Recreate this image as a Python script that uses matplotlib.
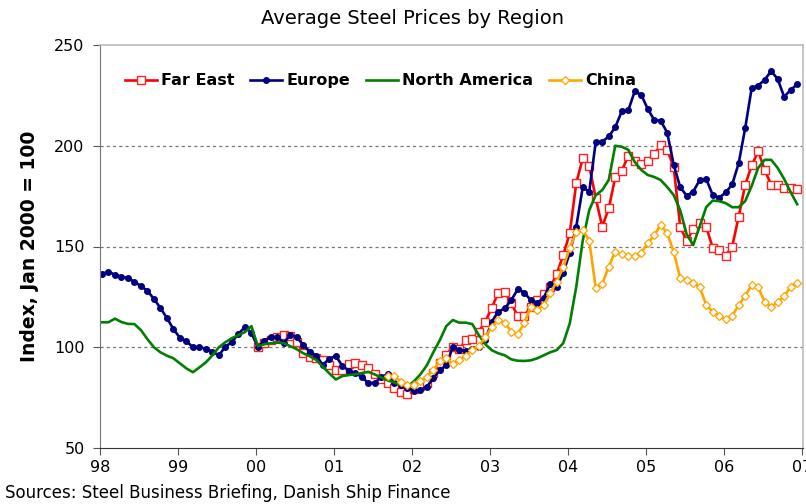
import numpy as np
import matplotlib
matplotlib.use("Agg")
import matplotlib.pyplot as plt

# monthly index values, Jan 1998 = month 0
europe = [136.4, 137.5, 136.0, 135.0, 134.4, 132.4, 130.4, 128.0, 124.0, 119.5,
          114.5, 109.0, 104.7, 103.0, 100.0, 100.0, 99.3, 97.8, 96.0, 100.3,
          102.6, 106.6, 110.0, 107.2, 100.0, 103.3, 105.0, 105.0, 102.3, 106.0,
          105.0, 101.0, 97.8, 95.7, 91.2, 94.3, 95.7, 90.7, 88.4, 87.0,
          85.4, 82.1, 82.4, 85.1, 86.7, 82.4, 81.3, 80.0, 78.4, 78.8,
          80.4, 84.6, 88.7, 91.0, 100.3, 98.6, 98.3, 99.3, 100.3, 103.6,
          112.7, 117.7, 119.3, 123.4, 128.8, 127.1, 123.4, 122.1, 124.6, 131.4,
          130.0, 137.0, 146.9, 159.8, 179.4, 177.2, 202.0, 202.0, 204.6, 209.2,
          217.0, 217.5, 227.0, 225.3, 218.3, 212.8, 212.4, 206.5, 190.6, 179.4,
          175.2, 177.2, 183.0, 183.5, 175.6, 174.2, 176.8, 180.8, 191.3, 208.7,
          228.6, 229.9, 232.7, 237.1, 233.1, 224.3, 227.7, 230.5]

north_america = [112.4, 112.4, 114.2, 112.5, 111.6, 111.5, 108.5, 104.0, 100.0, 97.5,
                 95.8, 94.5, 92.0, 89.5, 87.6, 90.0, 92.5, 96.0, 100.0, 102.5,
                 104.5, 106.0, 107.5, 110.5, 100.5, 101.5, 102.0, 102.3, 102.0, 100.5,
                 99.0, 97.0, 95.5, 93.7, 90.3, 87.0, 84.0, 85.7, 86.2, 86.6,
                 87.2, 87.8, 86.5, 85.0, 83.5, 82.5, 81.3, 80.5, 83.0, 86.5,
                 91.0, 97.5, 103.5, 110.5, 113.5, 112.2, 112.2, 111.5, 106.0, 101.5,
                 98.5, 97.0, 96.0, 94.0, 93.3, 93.2, 93.5, 94.5, 96.0, 97.5,
                 98.6, 102.0, 111.8, 130.0, 153.0, 168.0, 175.5, 178.0, 183.0, 200.0,
                 199.5, 198.0, 192.0, 188.0, 185.5, 184.5, 183.0, 179.5, 175.5, 168.0,
                 156.0, 150.7, 160.0, 169.5, 172.8, 172.5, 171.5, 169.5, 169.5, 172.5,
                 180.0, 189.0, 193.0, 193.0, 189.0, 183.5, 177.0, 171.0]

# Far East starts Jan 2000 (month 24)
far_east_start = 24
far_east = [100.2, 102.0, 103.6, 105.3, 106.0, 105.5, 102.8, 97.0, 95.2, 94.5,
            93.7, 91.2, 88.7, 88.5, 91.8, 92.3, 91.2, 89.6, 86.8, 84.0,
            82.1, 80.0, 78.0, 77.0, 79.3, 81.0, 82.5, 87.3, 92.0, 96.2,
            100.3, 99.0, 103.6, 104.0, 107.7, 112.7, 119.6, 127.1, 127.6, 121.8,
            115.5, 115.5, 120.1, 123.4, 126.4, 129.7, 136.4, 145.8, 156.6, 181.4,
            193.8, 190.0, 174.0, 159.8, 168.9, 184.3, 187.5, 195.0, 192.6, 190.9,
            192.4, 195.8, 200.2, 198.0, 189.4, 159.8, 152.7, 158.7, 161.5, 159.8,
            149.4, 148.3, 145.5, 149.9, 164.8, 180.6, 190.2, 197.2, 188.1, 180.6,
            180.6, 179.2, 179.2, 178.5]

# China starts Sep 2001 (month 44)
china_start = 44
china = [85.7, 85.5, 83.0, 81.3, 81.3, 83.2, 85.4, 88.7, 93.2, 94.5,
         91.7, 93.7, 95.7, 98.6, 100.6, 104.9, 110.2, 113.5, 112.2, 107.7,
         106.6, 111.9, 120.1, 118.5, 121.0, 126.8, 132.6, 139.7, 149.1, 157.4,
         158.2, 152.9, 129.3, 131.4, 140.0, 147.4, 146.3, 145.3, 145.3, 147.0,
         151.6, 155.5, 160.8, 156.5, 147.4, 134.3, 133.4, 132.1, 129.8, 121.0,
         117.7, 115.5, 113.9, 115.5, 121.0, 125.4, 130.9, 129.8, 122.5, 120.0,
         122.3, 125.2, 130.1, 132.1]

year_labels = ["98", "99", "00", "01", "02", "03", "04", "05", "06", "07"]

m_eu = np.arange(len(europe)) + 0.3
m_na = np.arange(len(north_america)) + 0.3
m_fe = np.arange(len(far_east)) + far_east_start + 0.3
m_cn = np.arange(len(china)) + china_start + 0.3

fig = plt.figure(figsize=(8.06, 5.04), dpi=100)
ax = fig.add_axes([100 / 806, 1 - 448 / 504, 703 / 806, 403 / 504])

ax.plot(m_fe, far_east, color="#FF0000", lw=1.9, marker="s", ms=5.2,
        mfc="white", mec="#FF2020", mew=1.0, label="Far East")
ax.plot(m_eu, europe, color="#000080", lw=1.9, marker="o", ms=4.0,
        mfc="#000080", mec="#000080", label="Europe")
ax.plot(m_na, north_america, color="#008000", lw=1.9, label="North America")
ax.plot(m_cn, china, color="#FFA500", lw=1.9, marker="D", ms=4.3,
        mfc="white", mec="#FFA500", mew=0.9, label="China")

ax.set_xlim(0, 108.2)
ax.set_ylim(50, 250)
ax.set_xticks(np.arange(0, 109, 12))
ax.set_xticklabels(year_labels)
ax.set_yticks([50, 100, 150, 200, 250])
ax.tick_params(axis="both", labelsize=11.5, length=5, direction="out",
               color="#555555")
ax.tick_params(axis="x", pad=4)
ax.tick_params(axis="y", pad=6)

for v in [100, 150, 200]:
    ax.axhline(v, color="#777777", lw=0.9, ls=(0, (2.5, 2.5)), zorder=0)

for side in ["top", "right"]:
    ax.spines[side].set_color("#BBBBBB")
    ax.spines[side].set_linewidth(1.2)
ax.spines["left"].set_color("#777777")
ax.spines["bottom"].set_color("#333333")

ax.set_ylabel("Index, Jan 2000 = 100", fontsize=13.5, fontweight="bold",
              labelpad=11)
fig.text(412 / 806, 1 - 18 / 504, "Average Steel Prices by Region",
         fontsize=14, ha="center", va="center")
fig.text(5 / 806, 1 - 493 / 504,
         "Sources: Steel Business Briefing, Danish Ship Finance",
         fontsize=12, ha="left", va="center")

ax.legend(loc="upper left", bbox_to_anchor=(0.015, 0.965), ncol=4, frameon=False,
          prop={"weight": "bold", "size": 11.5}, handlelength=2.0,
          handletextpad=0.25, columnspacing=1.0)

fig.savefig("out.png", dpi=100)
